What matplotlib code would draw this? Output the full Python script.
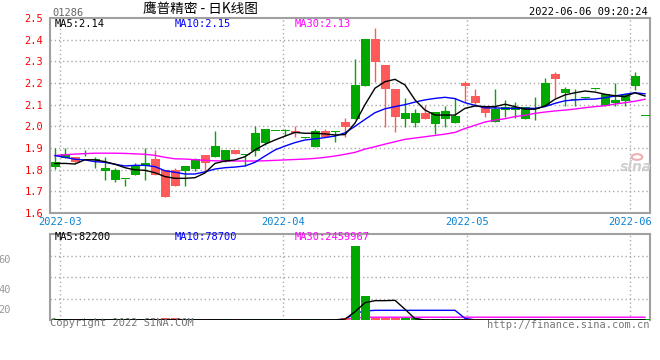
import matplotlib
matplotlib.use("Agg")
import matplotlib.pyplot as plt
import matplotlib.patches as patches
import numpy as np

# daily candles, 2022-02-28 .. 2022-06-02
opens = [1.834, 1.871, 1.835, 1.877, 1.846, 1.808, 1.799, 1.757, 1.818, 1.829,
         1.775, 1.675, 1.726, 1.817, 1.849, 1.829, 1.911, 1.891, 1.872, 1.868,
         1.971, 1.988, 1.979, 1.979, 1.968, 1.949, 1.980, 1.949, 1.975, 1.998,
         2.191, 2.403, 2.298, 2.171, 2.045, 2.060, 2.060, 2.034, 2.068, 2.071,
         2.048, 2.188, 2.109, 2.060, 2.079, 2.091, 2.091, 2.088, 2.080, 2.199,
         2.218, 2.171, 2.123, 2.130, 2.172, 2.149, 2.122, 2.149, 2.232, 2.049]
highs = [1.899, 1.899, 1.860, 1.891, 1.858, 1.857, 1.806, 1.757, 1.829, 1.899,
         1.891, 1.799, 1.808, 1.817, 1.853, 1.868, 1.979, 1.891, 1.891, 1.868,
         2.002, 1.988, 1.980, 1.988, 2.002, 1.950, 1.988, 1.988, 1.978, 2.037,
         2.309, 2.403, 2.455, 2.283, 2.172, 2.129, 2.079, 2.098, 2.068, 2.094,
         2.129, 2.209, 2.171, 2.094, 2.171, 2.122, 2.111, 2.088, 2.137, 2.222,
         2.252, 2.183, 2.172, 2.131, 2.172, 2.150, 2.199, 2.149, 2.252, 2.049]
lows = [1.803, 1.855, 1.830, 1.865, 1.806, 1.752, 1.743, 1.726, 1.777, 1.752,
        1.775, 1.675, 1.726, 1.726, 1.795, 1.795, 1.857, 1.837, 1.872, 1.818,
        1.865, 1.914, 1.978, 1.955, 1.949, 1.948, 1.906, 1.949, 1.926, 1.949,
        2.034, 2.188, 2.206, 1.998, 1.975, 1.998, 1.998, 2.034, 1.963, 1.998,
        2.017, 2.114, 2.098, 2.045, 2.019, 2.045, 2.037, 2.034, 2.029, 2.095,
        2.129, 2.095, 2.095, 2.128, 2.170, 2.095, 2.095, 2.095, 2.168, 2.048]
closes = [1.814, 1.855, 1.857, 1.871, 1.843, 1.795, 1.752, 1.756, 1.777, 1.818,
          1.849, 1.799, 1.799, 1.795, 1.805, 1.868, 1.857, 1.837, 1.891, 1.867,
          1.888, 1.922, 1.978, 1.978, 1.979, 1.948, 1.906, 1.979, 1.974, 2.021,
          2.034, 2.188, 2.403, 2.283, 2.172, 2.034, 2.017, 2.060, 2.009, 2.034,
          2.017, 2.199, 2.140, 2.094, 2.019, 2.075, 2.077, 2.034, 2.079, 2.095,
          2.242, 2.155, 2.122, 2.129, 2.171, 2.095, 2.106, 2.118, 2.188, 2.048]

ma5 = [1.828, 1.829, 1.826, 1.846, 1.845, 1.837, 1.825, 1.809, 1.799, 1.797,
       1.786, 1.768, 1.760, 1.760, 1.763, 1.785, 1.829, 1.840, 1.845, 1.860,
       1.891, 1.917, 1.937, 1.955, 1.972, 1.968, 1.968, 1.965, 1.960, 1.962,
       2.015, 2.100, 2.176, 2.206, 2.217, 2.191, 2.122, 2.075, 2.052, 2.052,
       2.052, 2.083, 2.094, 2.091, 2.091, 2.102, 2.091, 2.079, 2.079, 2.094,
       2.125, 2.145, 2.155, 2.163, 2.158, 2.148, 2.141, 2.137, 2.155, 2.140]
ma10 = [1.865, 1.857, 1.848, 1.845, 1.837, 1.834, 1.825, 1.817, 1.820, 1.820,
        1.814, 1.795, 1.788, 1.780, 1.780, 1.790, 1.803, 1.809, 1.812, 1.817,
        1.834, 1.863, 1.891, 1.909, 1.925, 1.937, 1.942, 1.948, 1.955, 1.970,
        2.000, 2.032, 2.063, 2.081, 2.091, 2.100, 2.112, 2.122, 2.129, 2.134,
        2.128, 2.109, 2.097, 2.085, 2.085, 2.083, 2.083, 2.083, 2.083, 2.091,
        2.106, 2.118, 2.122, 2.125, 2.126, 2.132, 2.140, 2.148, 2.155, 2.150]
ma30 = [1.865, 1.869, 1.872, 1.874, 1.876, 1.876, 1.876, 1.875, 1.873, 1.871,
        1.866, 1.857, 1.850, 1.849, 1.846, 1.843, 1.841, 1.840, 1.840, 1.840,
        1.840, 1.841, 1.843, 1.845, 1.847, 1.849, 1.852, 1.857, 1.863, 1.871,
        1.880, 1.895, 1.906, 1.918, 1.929, 1.940, 1.946, 1.952, 1.958, 1.964,
        1.972, 1.990, 2.005, 2.020, 2.029, 2.035, 2.045, 2.051, 2.060, 2.066,
        2.071, 2.075, 2.080, 2.086, 2.091, 2.095, 2.103, 2.109, 2.116, 2.125]

volumes = [1.3, 1.2, 1.2, 1.0, 1.2, 1.3, 1.3, 1.0, 1.2, 1.3,
           1.2, 2.2, 1.5, 1.2, 1.2, 1.3, 1.3, 1.2, 1.0, 1.2,
           1.3, 1.2, 1.0, 1.2, 1.3, 1.0, 1.3, 1.2, 1.2, 1.6,
           69.1, 22.6, 2.3, 2.3, 2.3, 1.5, 1.5, 1.3, 1.3, 1.3,
           1.3, 1.2, 1.2, 1.2, 1.2, 1.2, 1.2, 1.2, 1.2, 1.3,
           1.2, 1.2, 1.2, 1.0, 1.0, 1.2, 1.2, 1.2, 1.3, 1.0]
vol_ma5 = [0.2] * 29 + [0.8, 7.7, 16.1, 18.0, 18.0, 18.3, 10.0, 1.2] + [0.1] * 23
vol_ma10 = [0.1] * 29 + [0.6, 6.2, 8.4] + [9.0] * 9 + [1.5] + [0.1] * 18
vol_ma30 = [0.1] * 29 + [0.6, 1.8, 2.5] + [2.6] * 28

price_ticks = [1.6, 1.7, 1.8, 1.9, 2.0, 2.1, 2.2, 2.3, 2.4, 2.5]
month_labels = ["2022-03", "2022-04", "2022-05", "2022-06"]
vol_labels = ["60", "40", "20"]

RED = "#ff5a5a"
GREEN = "#00a800"
GRID = "#aaaaaa"
EDGE = "#a0a0a0"
MONO = "DejaVu Sans Mono"

W, H = 660, 360


def px(x, y):
    """ pixel position -> figure fraction """
    return x / W, 1 - y / H


fig = plt.figure(figsize=(6.6, 3.6), dpi=100)
fig.patch.set_facecolor("white")

ax = fig.add_axes([50 / W, 1 - 213 / H, 600 / W, 195 / H])
vax = fig.add_axes([50 / W, 1 - 320 / H, 600 / W, 86 / H])

n = len(closes)
x = np.arange(n)
o = np.array(opens)
c = np.array(closes)
up = c > o
colors = np.where(up, RED, GREEN)

# month grid positions (slot units)
month_pos = [0.5, 22.83, 41.17, 57.5]

for a in (ax, vax):
    a.set_xlim(-0.5, n - 0.5)
    for s in a.spines.values():
        s.set_color(EDGE)
        s.set_linewidth(1.5)
    a.set_xticks([])
    for m in month_pos:
        a.axvline(m, color=GRID, lw=1, ls=(0, (1, 2)), zorder=0)

# price panel
ax.set_ylim(1.6, 2.5)
for t in price_ticks[1:-1]:
    ax.axhline(t, color=GRID, lw=1, ls=(0, (1, 2)), zorder=0)
ax.set_yticks(price_ticks)
ax.set_yticklabels([f"{t:.1f}" for t in price_ticks], color="red",
                   family=MONO, fontsize=7.5)
ax.tick_params(axis="y", length=0, pad=5)

ax.vlines(x, lows, highs, colors=colors, lw=1, zorder=2)
body_lo = np.minimum(o, c)
body_h = np.maximum(np.abs(c - o), 0.0045)
ax.bar(x, body_h, 0.9, bottom=body_lo, color=colors, zorder=3)

ax.plot(x, ma30, color="#ff00ff", lw=1, zorder=4)
ax.plot(x, ma10, color="#0000ff", lw=1, zorder=4)
ax.plot(x, ma5, color="black", lw=1, zorder=4)

for m, lab in zip(month_pos, month_labels):
    ax.text(m, -0.045, lab, transform=ax.get_xaxis_transform(), ha="center",
            va="center", color="#0a82d2", family=MONO, fontsize=7.5)

# volume panel
vax.set_ylim(0, 80)
for t in (20, 40, 60):
    vax.axhline(t, color=GRID, lw=1, ls=(0, (1, 2)), zorder=0)
vax.set_yticks([])
vax.spines["bottom"].set_visible(False)
vax.bar(x, volumes, 0.9, color=colors, zorder=3)
vax.plot(x, vol_ma30, color="#ff00ff", lw=1, zorder=2)
vax.plot(x, vol_ma10, color="#0000ff", lw=1, zorder=2)
vax.plot(x, vol_ma5, color="black", lw=1, zorder=4)

for lab, yy in zip(vol_labels, (260, 290, 310)):
    fig.text(*px(11, yy), lab, ha="right", va="center", color="#999999",
             family=MONO, fontsize=7.5)

# header texts
fig.text(*px(52, 12.5), "01286", ha="left", va="center", color="#666666",
         family=MONO, fontsize=7.5)
fig.text(*px(200, 9), "鹰普精密 - 日K线图", ha="center", va="center",
         color="black", family=["Noto Sans CJK SC", "DejaVu Sans"],
         fontsize=9.8)
fig.text(*px(648, 12), "2022-06-06 09:20:24", ha="right", va="center",
         color="black", family=MONO, fontsize=7.5)

legend_rows = [(24, ["MA5:2.14", "MA10:2.15", "MA30:2.13"]),
               (237, ["MA5:82200", "MA10:78700", "MA30:2459967"])]
for yy, labels in legend_rows:
    for xx, lab, col in zip((55, 175, 295), labels,
                            ("black", "#0000ff", "#ff00ff")):
        fig.text(*px(xx, yy), lab, ha="left", va="center", color=col,
                 family=MONO, fontsize=7.5)

fig.text(*px(50, 323.5), "Copyright 2022 SINA.COM", ha="left", va="center",
         color="#777777", family=MONO, fontsize=7.5)
fig.text(*px(650, 324.5), "http://finance.sina.com.cn", ha="right",
         va="center", color="#777777", family=MONO, fontsize=7.5)

# faint sina watermark
fig.text(*px(636, 167), "sina", ha="center", va="center", color="#cfcfcf",
         fontsize=10, fontweight="bold", style="italic")
eye = patches.Circle(px(637, 157), 0.008, transform=fig.transFigure,
                     facecolor="none", edgecolor="#f0b0b0", lw=1.5)
fig.patches.append(eye)

fig.savefig("out.png", dpi=100)
